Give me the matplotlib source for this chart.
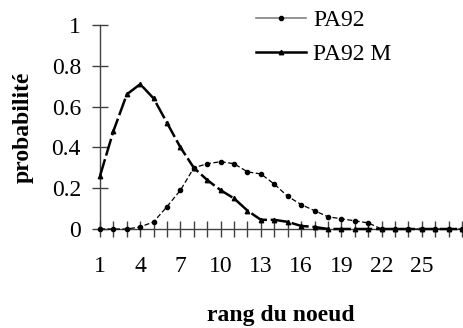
import matplotlib
matplotlib.use("Agg")
import matplotlib.pyplot as plt
from matplotlib.lines import Line2D

# Node rank (categories) and probability per model
rang = list(range(1, 29))
pa92 = [0.0, 0.0, 0.0, 0.01, 0.035, 0.11, 0.19, 0.30, 0.32, 0.33, 0.32, 0.28,
        0.27, 0.22, 0.16, 0.12, 0.09, 0.06, 0.05, 0.04, 0.03, 0.0, 0.0, 0.0,
        0.0, 0.0, 0.0, 0.0]
pa92_m = [0.26, 0.48, 0.66, 0.71, 0.64, 0.52, 0.40, 0.30, 0.24, 0.19, 0.15, 0.09,
          0.045, 0.045, 0.035, 0.015, 0.01, 0.0, 0.0, 0.0, 0.0, 0.0, 0.0, 0.0,
          0.0, 0.0, 0.0, 0.0]
yticks = [0, 0.2, 0.4, 0.6, 0.8, 1]
ytick_labels = ["0", "0.2", "0.4", "0.6", "0.8", "1"]
xtick_labels = [1, 4, 7, 10, 13, 16, 19, 22, 25]

plt.rcParams['font.family'] = ['Liberation Serif', 'DejaVu Serif']

fig = plt.figure(figsize=(4.64, 3.28), dpi=100)
ax = fig.add_axes([100 / 464, 1 - 229 / 328, 362 / 464, 204 / 328])

ax.plot(rang, pa92, color='black', lw=0.9, dashes=(4, 2), marker='o',
        markersize=3, clip_on=False, zorder=3)
ax.plot(rang, pa92_m, color='black', lw=1.8, dashes=(7, 1.5), marker='^',
        markersize=3.2, clip_on=False, zorder=4)

ax.set_xlim(1, 28)
ax.set_ylim(0, 1)

for s in ['top', 'right']:
    ax.spines[s].set_visible(False)
for s in ['left', 'bottom']:
    ax.spines[s].set_color('#404040')
    ax.spines[s].set_linewidth(1)

ax.set_yticks(yticks)
ax.set_yticklabels(ytick_labels)
ax.set_xticks(rang)
ax.set_xticklabels([str(r) if r in xtick_labels else "" for r in rang])

ax.tick_params(axis='y', direction='inout', length=11.5, width=1,
               color='#404040', labelsize=17, pad=8)
ax.tick_params(axis='x', direction='inout', length=11, width=1,
               color='#404040', labelsize=17, pad=14)

ax.set_xlabel("rang du noeud", fontsize=17, fontweight='bold', labelpad=20)
ax.set_ylabel("probabilité", fontsize=17, fontweight='bold', labelpad=13)

handles = [
    Line2D([], [], color='#808080', lw=1.2, marker='o', markersize=3,
           markerfacecolor='black', markeredgecolor='black'),
    Line2D([], [], color='black', lw=1.8, marker='^', markersize=3.2),
]
leg = ax.legend(handles, ["PA92", "PA92 M"], loc='upper left',
                bbox_to_anchor=(247 / 464, 1.0), bbox_transform=fig.transFigure,
                frameon=False, fontsize=17, handlelength=2.1,
                handletextpad=0.3, labelspacing=0.55, borderaxespad=0)

fig.savefig("out.png", dpi=100)
